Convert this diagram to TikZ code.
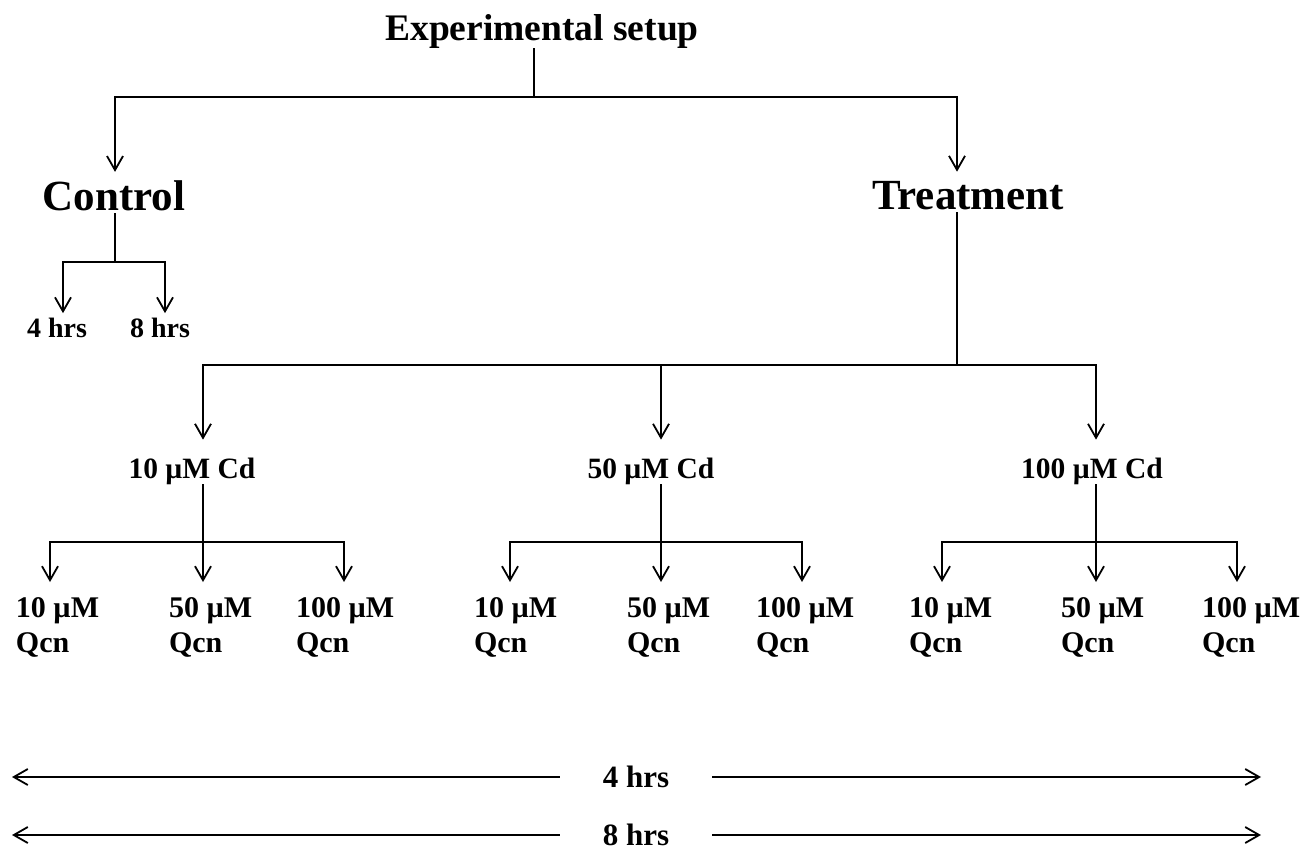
\documentclass[tikz,border=0pt]{standalone}
\usepackage{fontspec}
\setmainfont{Liberation Serif}
\usetikzlibrary{arrows.meta}
\begin{document}
\begin{tikzpicture}[x=1pt,y=-1pt,
  ln/.style={line width=2.2pt,black},
  arr/.style={ln,-{Straight Barb[length=14pt,width=16pt,line width=1.8pt]}},
  lab/.style={inner sep=0pt,outer sep=0pt,text=black},
  titlefont/.style={lab,font=\bfseries\fontsize{37.5}{44}\selectfont},
  groupfont/.style={lab,font=\bfseries\fontsize{43}{50}\selectfont},
  hrsfont/.style={lab,font=\bfseries\fontsize{28}{33}\selectfont},
  cdfont/.style={lab,font=\bfseries\fontsize{29.5}{34}\selectfont},
  qcnfont/.style={lab,anchor=north west,align=left,font=\bfseries\fontsize{30}{35}\selectfont},
  timefont/.style={lab,inner xsep=43pt,font=\bfseries\fontsize{31}{36}\selectfont}
]
\useasboundingbox[fill=white] (0,0) rectangle (1313,851);

% nodes
\node[titlefont] (exp) at (542,31) {Experimental setup};
\node[groupfont] (ctrl) at (114,196) {Control};
\node[groupfont] (treat) at (968,196) {Treatment};
\node[hrsfont] (h4) at (57,328) {4 hrs};
\node[hrsfont] (h8) at (160,328) {8 hrs};
\node[cdfont] (cd10) at (192,471) {10 µM Cd};
\node[cdfont] (cd50) at (651,471) {50 µM Cd};
\node[cdfont] (cd100) at (1092,471) {100 µM Cd};

\node[qcnfont] (q11) at (16,598) {10 µM\\Qcn};
\node[qcnfont] (q12) at (169,598) {50 µM\\Qcn};
\node[qcnfont] (q13) at (296,598) {100 µM\\Qcn};
\node[qcnfont] (q21) at (474,598) {10 µM\\Qcn};
\node[qcnfont] (q22) at (627,598) {50 µM\\Qcn};
\node[qcnfont] (q23) at (756,598) {100 µM\\Qcn};
\node[qcnfont] (q31) at (909,598) {10 µM\\Qcn};
\node[qcnfont] (q32) at (1061,598) {50 µM\\Qcn};
\node[qcnfont] (q33) at (1202,598) {100 µM\\Qcn};

\node[timefont] (b4) at (636,777) {4 hrs};
\node[timefont] (b8) at (636,835) {8 hrs};

% junctions
\coordinate (j0) at (534,97);
\coordinate (jc) at (115,262);
\coordinate (jt) at (957,365);
\coordinate (j1) at (203,542);
\coordinate (j2) at (661,542);
\coordinate (j3) at (1096,542);
\coordinate (l4) at (12,777);
\coordinate (r4) at (1261,777);
\coordinate (l8) at (12,835);
\coordinate (r8) at (1261,835);

% top level
\draw[ln] (exp.south -| j0) -- (j0);
\draw[arr] (j0) -| ([xshift=1pt,yshift=9pt]ctrl.north);
\draw[arr] (j0) -| ([xshift=-11pt,yshift=10pt]treat.north);

% control
\draw[ln] ([yshift=-2pt]ctrl.south -| jc) -- (jc);
\draw[arr] (jc) -| ([xshift=6pt,yshift=5pt]h4.north);
\draw[arr] (jc) -| ([xshift=5pt,yshift=5pt]h8.north);

% treatment
\draw[ln] ([yshift=-2pt]treat.south -| jt) -- (jt);
\draw[arr] (jt) -| ([xshift=11pt,yshift=18pt]cd10.north);
\draw[arr] (jt) -| ([xshift=10pt,yshift=18pt]cd50.north);
\draw[arr] (jt) -| ([xshift=4pt,yshift=18pt]cd100.north);

% group 1
\draw[arr] (cd10.south -| j1) -- ([xshift=34pt,yshift=16pt]q12.north west);
\draw[arr] (j1) -| ([xshift=34pt,yshift=16pt]q11.north west);
\draw[arr] (j1) -| ([xshift=48pt,yshift=16pt]q13.north west);

% group 2
\draw[arr] (cd50.south -| j2) -- ([xshift=34pt,yshift=16pt]q22.north west);
\draw[arr] (j2) -| ([xshift=36pt,yshift=16pt]q21.north west);
\draw[arr] (j2) -| ([xshift=46pt,yshift=16pt]q23.north west);

% group 3
\draw[arr] (cd100.south -| j3) -- ([xshift=35pt,yshift=16pt]q32.north west);
\draw[arr] (j3) -| ([xshift=33pt,yshift=16pt]q31.north west);
\draw[arr] (j3) -| ([xshift=35pt,yshift=16pt]q33.north west);

% time arrows
\draw[arr] (b4.west) -- (l4);
\draw[arr] (b4.east) -- (r4);
\draw[arr] (b8.west) -- (l8);
\draw[arr] (b8.east) -- (r8);
\end{tikzpicture}
\end{document}
